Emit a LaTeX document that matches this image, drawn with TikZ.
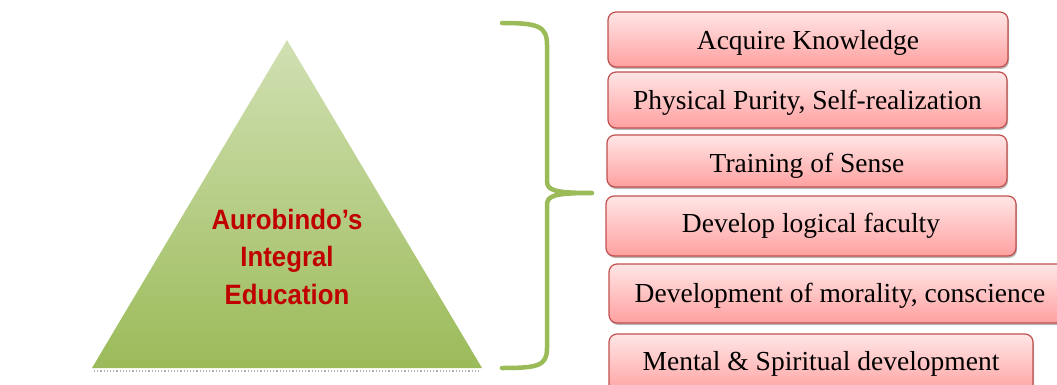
\documentclass[tikz,border=0pt]{standalone}
\usepackage{fontspec}
\setmainfont{Liberation Serif}
\newfontfamily\armain{Liberation Sans}
\usetikzlibrary{shadows}
\definecolor{olg}{HTML}{9BBB59}
\definecolor{olgl}{HTML}{D1E0B3}
\definecolor{rbord}{HTML}{C0504D}
\definecolor{rtop}{HTML}{FFE6E6}
\definecolor{rbot}{HTML}{FFA0A0}
\definecolor{dred}{HTML}{C00000}
\tikzset{
  itembox/.style={draw=rbord, line width=1.2pt, rounded corners=8pt,
    top color=rtop, bottom color=rbot, inner sep=0pt, text depth=3pt,
    font=\fontsize{27.5}{31}\selectfont,
    drop shadow={shadow xshift=1pt, shadow yshift=-2pt, fill=gray!55, opacity=1}},
  bracepath/.style={draw=olg, line width=4.5pt, line cap=round, line join=round},
}
\begin{document}
\begin{tikzpicture}[x=1pt,y=-1pt]
\useasboundingbox (0,0) rectangle (1057,385);
\clip (0,0) rectangle (1057,385);
% triangle
\draw[gray!60, line width=1.2pt, dotted] (94,371) -- (481,371);
\path[top color=olgl, bottom color=olg, draw=none] (92,368) -- (287,40) -- (482,368) -- cycle;
\node[coordinate] (apex) at (287,40) {};
\node[text=dred, align=center, inner sep=0pt] (title) at (287,259)
  {\scalebox{0.92}[1]{\armain\bfseries\fontsize{28}{37.5}\selectfont
   \begin{tabular}{@{}c@{}}Aurobindo’s\\[0pt] Integral\\[0pt] Education\end{tabular}}};
% brace
\coordinate (bt) at (502,23);
\coordinate (bb) at (502,368);
\coordinate (tip) at (592,193);
\draw[bracepath] (bt) .. controls (538,23) and (547,26) .. (547,45) -- (547,181)
   .. controls (547,190) and (553,193) .. (tip)
   .. controls (553,193) and (547,196) .. (547,205) -- (547,348)
   .. controls (547,366) and (538,368) .. (bb);
% boxes
\node[itembox, minimum width=400pt, minimum height=55pt, text height=24pt] (b1) at (808,39.5) {Acquire Knowledge};
\node[itembox, minimum width=399pt, minimum height=56pt, text height=23pt] (b2) at (807.5,100) {Physical Purity, Self-realization};
\node[itembox, minimum width=400pt, minimum height=52pt, text height=26pt] (b3) at (807,161) {Training of Sense};
\node[itembox, minimum width=410pt, minimum height=60pt, text height=15pt] (b4) at (811,226) {Develop logical faculty};
\node[itembox, minimum width=462pt, minimum height=59pt, text height=20pt] (b5) at (840,293.5) {Development of morality, conscience};
\node[itembox, minimum width=424pt, minimum height=60pt, text height=15pt] (b6) at (821,364) {Mental \& Spiritual development};
\end{tikzpicture}
\end{document}
